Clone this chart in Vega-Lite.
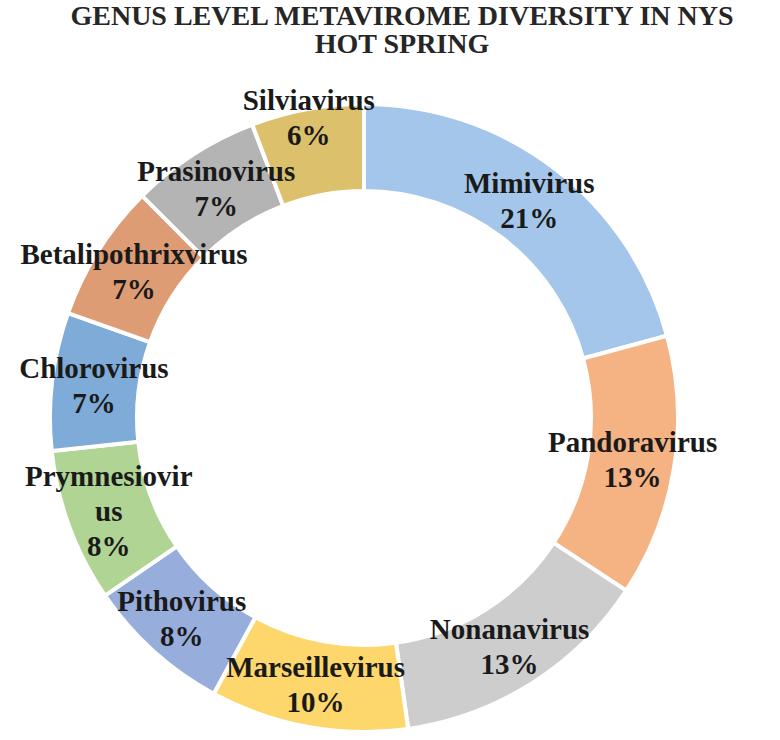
{
  "$schema": "https://vega.github.io/schema/vega-lite/v6.json",
  "width": 728,
  "height": 706,
  "padding": {"left": 0, "top": 65, "right": 52, "bottom": 0},
  "autosize": {"type": "none"},
  "background": "white",
  "title": {
    "text": ["GENUS LEVEL METAVIROME DIVERSITY IN NYS", "HOT SPRING"],
    "font": "Liberation Serif",
    "fontSize": 28,
    "fontWeight": "bold",
    "color": "#262626",
    "anchor": "middle",
    "dx": 38,
    "offset": 6,
    "lineHeight": 28
  },
  "data": {
    "values": [
      {"rank": 1, "genus": "Mimivirus", "share": 20.8, "label": ["Mimivirus", "21%"]},
      {"rank": 2, "genus": "Pandoravirus", "share": 13.5, "label": ["Pandoravirus", "13%"]},
      {"rank": 3, "genus": "Nonanavirus", "share": 13.5, "label": ["Nonanavirus", "13%"]},
      {"rank": 4, "genus": "Marseillevirus", "share": 10.2, "label": ["Marseillevirus", "10%"]},
      {"rank": 5, "genus": "Pithovirus", "share": 7.5, "label": ["Pithovirus", "8%"]},
      {"rank": 6, "genus": "Prymnesiovirus", "share": 7.9, "label": ["Prymnesiovir", "us", "8%"]},
      {"rank": 7, "genus": "Chlorovirus", "share": 7.1, "label": ["Chlorovirus", "7%"]},
      {"rank": 8, "genus": "Betalipothrixvirus", "share": 7.1, "label": ["Betalipothrixvirus", "7%"]},
      {"rank": 9, "genus": "Prasinovirus", "share": 6.7, "label": ["Prasinovirus", "7%"]},
      {"rank": 10, "genus": "Silviavirus", "share": 5.8, "label": ["Silviavirus", "6%"]}
    ]
  },
  "encoding": {
    "theta": {"field": "share", "type": "quantitative", "stack": true},
    "order": {"field": "rank", "type": "quantitative"}
  },
  "layer": [
    {
      "mark": {"type": "arc", "outerRadius": 314, "innerRadius": 227, "stroke": "white", "strokeWidth": 4},
      "encoding": {
        "color": {
          "field": "genus",
          "type": "nominal",
          "legend": null,
          "scale": {
            "domain": ["Mimivirus", "Pandoravirus", "Nonanavirus", "Marseillevirus", "Pithovirus", "Prymnesiovirus", "Chlorovirus", "Betalipothrixvirus", "Prasinovirus", "Silviavirus"],
            "range": ["#A4C6EA", "#F5B283", "#CDCDCD", "#FDD76B", "#97AEDD", "#B0D494", "#7EABD7", "#DD9C73", "#B4B4B4", "#DCC06B"]
          }
        }
      }
    },
    {
      "mark": {"type": "text", "radius": 272, "dy": -17.5, "font": "Liberation Serif", "fontSize": 29, "fontWeight": "bold", "lineHeight": 35, "color": "#1a1a1a", "align": "center", "baseline": "middle"},
      "encoding": {
        "text": {"field": "label"},
        "opacity": {"condition": {"test": "datum.genus === 'Silviavirus' || datum.genus === 'Prymnesiovirus'", "value": 0}, "value": 1}
      }
    },
    {
      "mark": {"type": "text", "radius": 272, "dy": -35, "font": "Liberation Serif", "fontSize": 29, "fontWeight": "bold", "lineHeight": 35, "color": "#1a1a1a", "align": "center", "baseline": "middle"},
      "encoding": {
        "text": {"field": "label"},
        "opacity": {"condition": {"test": "datum.genus === 'Prymnesiovirus'", "value": 1}, "value": 0}
      }
    },
    {
      "mark": {"type": "text", "radius": 305, "dy": -17.5, "font": "Liberation Serif", "fontSize": 29, "fontWeight": "bold", "lineHeight": 35, "color": "#1a1a1a", "align": "center", "baseline": "middle"},
      "encoding": {
        "text": {"field": "label"},
        "opacity": {"condition": {"test": "datum.genus === 'Silviavirus'", "value": 1}, "value": 0}
      }
    }
  ],
  "config": {"view": {"stroke": null}}
}
